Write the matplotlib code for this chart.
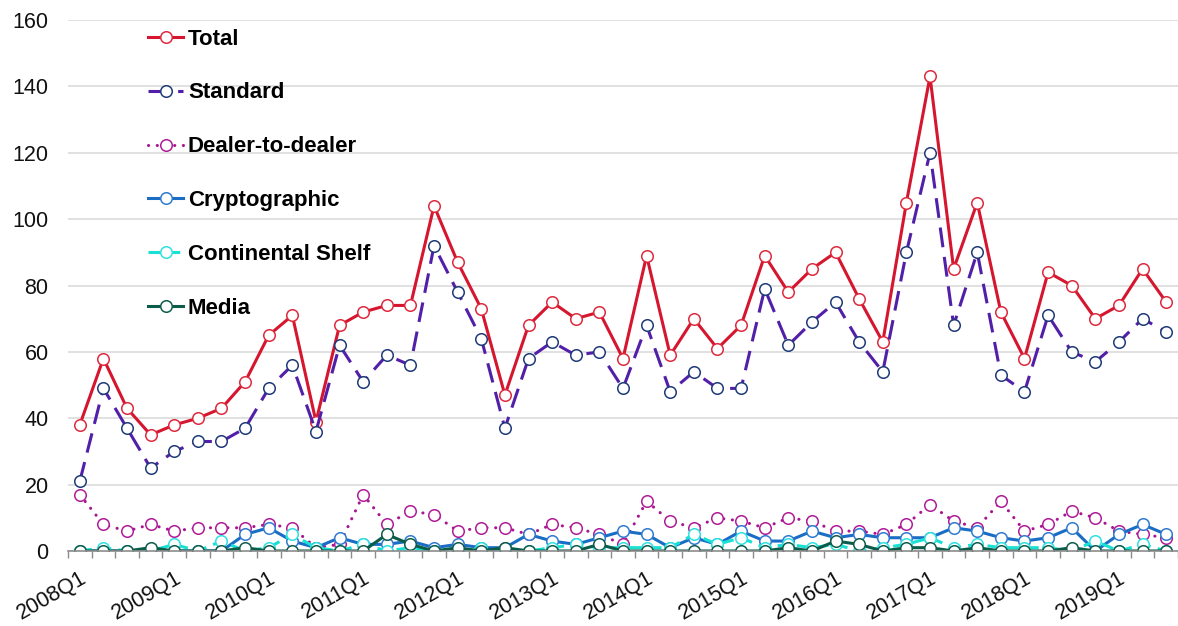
import matplotlib
matplotlib.use("Agg")
import matplotlib.pyplot as plt
from matplotlib.ticker import FixedLocator

plt.rcParams['font.family'] = ['Liberation Sans', 'DejaVu Sans']

quarters = [f"{y}Q{q}" for y in range(2008, 2020) for q in range(1, 5)][:47]
tick_labels = ['2008Q1', '2009Q1', '2010Q1', '2011Q1', '2012Q1', '2013Q1',
               '2014Q1', '2015Q1', '2016Q1', '2017Q1', '2018Q1', '2019Q1']

total = [38, 58, 43, 35, 38, 40, 43, 51, 65, 71, 39, 68, 72, 74, 74, 104, 87, 73, 47, 68,
         75, 70, 72, 58, 89, 59, 70, 61, 68, 89, 78, 85, 90, 76, 63, 105, 143, 85, 105, 72,
         58, 84, 80, 70, 74, 85, 75]
standard = [21, 49, 37, 25, 30, 33, 33, 37, 49, 56, 36, 62, 51, 59, 56, 92, 78, 64, 37, 58,
            63, 59, 60, 49, 68, 48, 54, 49, 49, 79, 62, 69, 75, 63, 54, 90, 120, 68, 90, 53,
            48, 71, 60, 57, 63, 70, 66]
dealer = [17, 8, 6, 8, 6, 7, 7, 7, 8, 7, 1, 2, 17, 8, 12, 11, 6, 7, 7, 5,
          8, 7, 5, 2, 15, 9, 7, 10, 9, 7, 10, 9, 6, 6, 5, 8, 14, 9, 7, 15,
          6, 8, 12, 10, 6, 5, 4]
crypto = [0, 0, 0, 0, 0, 0, 0, 5, 7, 3, 1, 4, 2, 2, 3, 1, 2, 1, 1, 5,
          3, 2, 4, 6, 5, 1, 4, 2, 6, 3, 3, 6, 4, 5, 4, 4, 4, 7, 6, 4,
          3, 4, 7, 0, 5, 8, 5]
continental = [0, 1, 0, 0, 2, 0, 3, 0, 1, 5, 1, 0, 2, 0, 1, 0, 0, 1, 0, 0,
               1, 2, 1, 1, 1, 1, 5, 2, 4, 1, 2, 1, 2, 0, 1, 2, 4, 1, 2, 1,
               1, 1, 0, 3, 0, 2, 0]
media = [0, 0, 0, 1, 0, 0, 0, 1, 0, 0, 0, 0, 0, 5, 2, 0, 1, 0, 1, 0,
         0, 0, 2, 0, 0, 0, 0, 0, 0, 0, 1, 0, 3, 2, 0, 1, 1, 0, 1, 0,
         0, 0, 1, 0, 0, 0, 0]

fig = plt.figure(figsize=(11.78, 6.26), dpi=100)
ax = fig.add_axes([0.0577, 0.1198, 0.9423, 0.8482])

x = list(range(len(quarters)))
ms = 8.3
mew = 1.1
lw = 2.2

series = [
    ("Total", total, dict(color='#D5162E', mec='#DE2A3E', ls='-')),
    ("Standard", standard, dict(color='#5220A8', mec='#1E3A78', dashes=(6.5, 3.2))),
    ("Dealer-to-dealer", dealer, dict(color='#A8158F', mec='#B01C98', dashes=(0.05, 2.8),
                                       dash_capstyle='round')),
    ("Cryptographic", crypto, dict(color='#1A6DC4', mec='#2F7BD0', ls='-')),
    ("Continental Shelf", continental, dict(color='#18E0D2', mec='#2DE2E0', dashes=(4, 2.4))),
    ("Media", media, dict(color='#0C5C4A', mec='#0F5C4A', ls='-')),
]

for name, vals, st in series:
    st = dict(st)
    color = st.pop('color')
    mec = st.pop('mec')
    ax.plot(x, vals, color=color, lw=lw, marker='o', ms=ms, mfc='white', mec=mec,
            mew=mew, label=name, **st)

ax.set_xlim(-0.5, len(quarters) - 0.5)
ax.set_ylim(0, 160)
ax.set_yticks(range(0, 161, 20))
ax.yaxis.grid(True, color='#D9D9D9', lw=1.1)
ax.set_axisbelow(True)
for s in ['left', 'right', 'top']:
    ax.spines[s].set_visible(False)
ax.spines['bottom'].set_color('#8C8C8C')
ax.spines['bottom'].set_linewidth(1.2)

ax.tick_params(axis='y', length=0, labelsize=15.5, pad=14, colors='#111111')
major_pos = [quarters.index(t) for t in tick_labels]
ax.set_xticks(major_pos)
ax.set_xticklabels(tick_labels, rotation=30, ha='right', rotation_mode='anchor')
ax.xaxis.set_minor_locator(FixedLocator([i - 0.5 for i in range(len(quarters) + 1)]))
ax.tick_params(axis='x', which='major', length=0, labelsize=15.5, pad=12, colors='#111111')
ax.tick_params(axis='x', which='minor', length=5, color='#8C8C8C', width=1)

leg = ax.legend(loc='upper left', bbox_to_anchor=(0.072, 0.984), frameon=False,
                prop={'weight': 'bold', 'size': 16}, handlelength=1.6,
                handletextpad=0.2, labelspacing=1.48, borderpad=0, borderaxespad=0)

fig.savefig('out.png', dpi=100)
